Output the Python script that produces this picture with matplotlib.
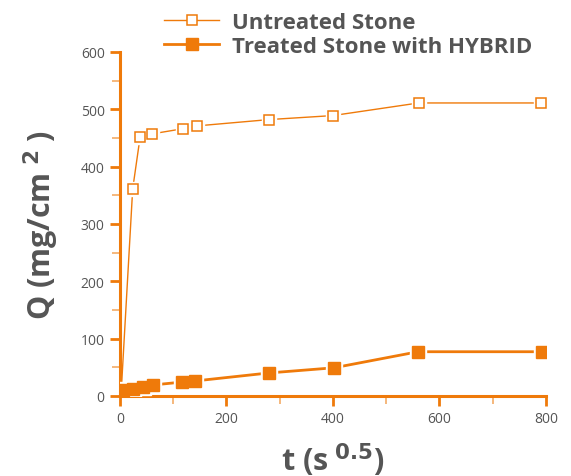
import matplotlib.pyplot as plt
from matplotlib.ticker import MultipleLocator
from matplotlib.lines import Line2D

plt.rcParams['font.family'] = ['Open Sans', 'DejaVu Sans']

orange = '#ef7a0a'
grey = '#555555'

# sorption data
t_untreated = [2, 24, 38, 60, 118, 145, 280, 400, 561, 790]
q_untreated = [0, 361, 452, 457, 466, 471, 482, 489, 511, 511]

t_treated = [5, 24, 43, 62, 116, 141, 280, 402, 560, 792]
q_treated = [10, 12, 16, 19, 24, 26, 40, 49, 77, 77]

fig = plt.figure(figsize=(5.71, 4.77), dpi=100)
ax = fig.add_axes([0.210, 0.168, 0.746, 0.721])

# lines first, then a white halo under each marker to leave a small gap
ax.plot(t_untreated, q_untreated, color=orange, lw=1.0, zorder=2)
ax.plot(t_untreated, q_untreated, ls='none', marker='s', ms=10,
        mfc='white', mec='white', zorder=3)
ax.plot(t_untreated, q_untreated, ls='none', marker='s', ms=7,
        mfc='white', mec=orange, mew=1.1, zorder=4)

ax.plot(t_treated, q_treated, color=orange, lw=2.0, zorder=5)
ax.plot(t_treated, q_treated, ls='none', marker='s', ms=12,
        mfc='white', mec='white', zorder=6)
ax.plot(t_treated, q_treated, ls='none', marker='s', ms=8.5,
        mfc=orange, mec=orange, zorder=7)

ax.set_xlim(0, 800)
ax.set_ylim(0, 600)
ax.xaxis.set_major_locator(MultipleLocator(200))
ax.xaxis.set_minor_locator(MultipleLocator(100))
ax.yaxis.set_major_locator(MultipleLocator(100))
ax.yaxis.set_minor_locator(MultipleLocator(50))

for side in ['top', 'right']:
    ax.spines[side].set_visible(False)
for side in ['left', 'bottom']:
    ax.spines[side].set_color(orange)
    ax.spines[side].set_linewidth(2.2)

ax.tick_params(which='major', direction='out', length=7, width=2.0,
               color=orange, labelcolor=grey, labelsize=10, pad=4)
ax.tick_params(which='minor', direction='out', length=6, width=1.1,
               color='#f3a458')

ax.set_xlabel(r't (s$^{\ \mathbf{0.5}}$)', fontsize=22, fontweight='bold',
              color=grey, labelpad=10)
ax.set_ylabel(r'Q (mg/cm$^{\ \mathbf{2}}$ )', fontsize=22, fontweight='bold',
              color=grey, labelpad=14)

handles = [
    Line2D([], [], color=orange, lw=1.0, marker='s', ms=7,
           mfc='white', mec=orange, mew=1.1),
    Line2D([], [], color=orange, lw=2.0, marker='s', ms=8,
           mfc=orange, mec=orange),
]
labels = ['Untreated Stone', 'Treated Stone with HYBRID']
leg = fig.legend(handles, labels, loc='upper left', bbox_to_anchor=(0.252, 1.015),
                 frameon=False, handlelength=2.5, handletextpad=0.55,
                 labelspacing=0.12, prop={'size': 16, 'weight': 'bold'})
for txt in leg.get_texts():
    txt.set_color(grey)

fig.savefig('out.png', dpi=100)
